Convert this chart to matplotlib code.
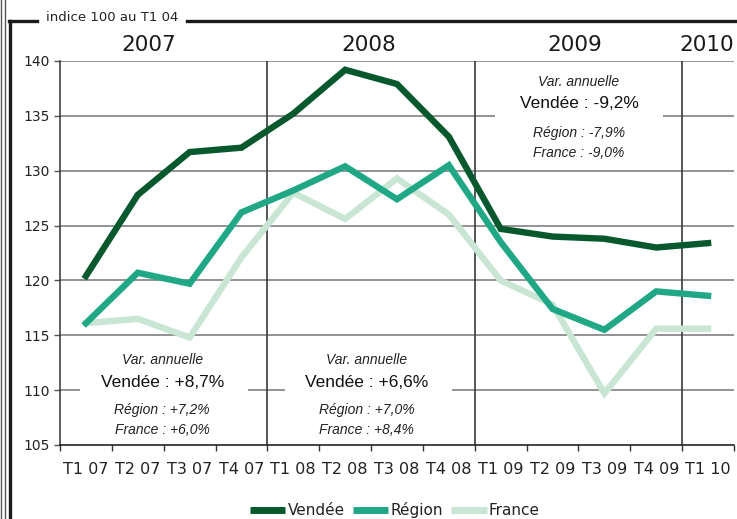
import matplotlib
matplotlib.use("Agg")
import matplotlib.pyplot as plt
from matplotlib.lines import Line2D
from matplotlib.patches import Rectangle

# ---------------- data ----------------
categories = ["T1 07", "T2 07", "T3 07", "T4 07", "T1 08", "T2 08", "T3 08",
              "T4 08", "T1 09", "T2 09", "T3 09", "T4 09", "T1 10"]
vendee = [120.4, 127.8, 131.7, 132.1, 135.2, 139.2, 137.9, 133.1,
          124.7, 124.0, 123.8, 123.0, 123.4]
region = [116.1, 120.7, 119.7, 126.2, 128.2, 130.4, 127.4, 130.5,
          123.5, 117.4, 115.5, 119.0, 118.6]
france = [116.1, 116.5, 114.8, 122.1, 128.0, 125.6, 129.3, 126.0,
          120.0, 117.8, 109.7, 115.6, 115.6]
series_names = ["Vendée", "Région", "France"]
years = ["2007", "2008", "2009", "2010"]
y_ticks = [105, 110, 115, 120, 125, 130, 135, 140]
annotations = [
    ("Var. annuelle", "Vendée : +8,7%", "Région : +7,2%", "France : +6,0%"),
    ("Var. annuelle", "Vendée : +6,6%", "Région : +7,0%", "France : +8,4%"),
    ("Var. annuelle", "Vendée : -9,2%", "Région : -7,9%", "France : -9,0%"),
]
subtitle = "indice 100 au T1 04"

colors = ["#07592d", "#20a886", "#c8e6d3"]

# ---------------- figure ----------------
W, H = 737, 519
fig = plt.figure(figsize=(W / 100, H / 100), dpi=100)
ax = fig.add_axes([60 / W, 1 - 445 / H, 674 / W, 384 / H])

x = list(range(len(categories)))
zorders = [4, 3.5, 3]
for vals, name, c, z in zip([vendee, region, france], series_names, colors, zorders):
    ax.plot(x, vals, color=c, lw=4.6, solid_joinstyle="miter", zorder=z,
            label=name)

ax.set_xlim(-0.5, len(categories) - 0.5)
ax.set_ylim(105, 140)

# gridlines
for yv in y_ticks[1:]:
    ax.axhline(yv, color="#8a8a8a", lw=1.3, zorder=1)
for xv in [3.5, 7.5, 11.5]:
    ax.axvline(xv, color="#3a3a3a", lw=1.2, zorder=1)

for s in ["top", "right"]:
    ax.spines[s].set_visible(False)
ax.spines["left"].set_color("#333333")
ax.spines["left"].set_linewidth(1.1)
ax.spines["bottom"].set_color("#111111")
ax.spines["bottom"].set_linewidth(1.1)

ax.set_yticks(y_ticks)
ax.set_yticklabels([str(v) for v in y_ticks], fontsize=10,
                   family="DejaVu Sans", color="#222222")
ax.tick_params(axis="y", length=4, width=1, color="#555555", pad=3.5)

ax.set_xticks(x)
ax.set_xticklabels(categories, fontsize=11.5, family="DejaVu Sans",
                   color="#222222")
ax.set_xticks([i - 0.5 for i in range(len(categories) + 1)], minor=True)
ax.tick_params(axis="x", which="major", length=0, pad=12)
ax.tick_params(axis="x", which="minor", length=4.5, width=1, color="#333333")

# year labels
year_pos = [1.22, 5.46, 9.42, 11.97]
for yr, xp in zip(years, year_pos):
    ax.text(xp, 1.042, yr, transform=ax.get_xaxis_transform(), ha="center",
            va="center", fontsize=15.5, color="#1a1a1a", family="DejaVu Sans")

# annotation boxes
boxes = [(-0.12, 105.5, 3.25, 8.6), (3.84, 105.5, 3.22, 8.6),
         (7.89, 130.5, 3.24, 8.9)]
text_cx = [1.47, 5.42, 9.51]
text_ys = [(112.75, 110.7, 108.15, 106.4), (112.75, 110.7, 108.15, 106.4),
           (138.1, 136.1, 133.4, 131.6)]
for (bx, by, bw, bh), cx, ys, ann in zip(boxes, text_cx, text_ys, annotations):
    ax.add_patch(Rectangle((bx, by), bw, bh, facecolor="white",
                           edgecolor="none", zorder=2))
    ax.text(cx, ys[0], ann[0], ha="center", va="center", fontsize=10,
            style="italic", family="Liberation Sans", color="#222222", zorder=5)
    ax.text(cx, ys[1], ann[1], ha="center", va="center", fontsize=12.5,
            family="Liberation Sans", color="#111111", zorder=5)
    ax.text(cx, ys[2], ann[2], ha="center", va="center", fontsize=10,
            style="italic", family="Liberation Sans", color="#222222", zorder=5)
    ax.text(cx, ys[3], ann[3], ha="center", va="center", fontsize=10,
            style="italic", family="Liberation Sans", color="#222222", zorder=5)

# legend
leg = fig.legend(handles=ax.lines[:3], labels=series_names, loc="center",
                 bbox_to_anchor=(395 / W, 1 - 510 / H), ncol=3, frameon=False,
                 handlelength=2.3, handletextpad=0.15, columnspacing=0.55,
                 prop={"family": "DejaVu Sans", "size": 11})
for t in leg.get_texts():
    t.set_color("#222222")
for h in leg.legend_handles:
    h.set_linewidth(5)
    h.set_solid_capstyle("butt")

# outer frame
def fx(px):
    return px / W

def fy(py):
    return 1 - py / H

fig.add_artist(Line2D([fx(1.5), fx(1.5)], [0, 1], color="#555555", lw=1.0))
fig.add_artist(Line2D([fx(4.5), fx(4.5)], [0, 1], color="#555555", lw=1.0))
fig.add_artist(Line2D([fx(9.5), fx(9.5)], [fy(21), 0], color="#1a1a1a", lw=2.4))
fig.add_artist(Line2D([fx(8.5), fx(37)], [fy(21), fy(21)], color="#1a1a1a", lw=2.4))
fig.add_artist(Line2D([fx(187), 1], [fy(21), fy(21)], color="#1a1a1a", lw=2.4))
fig.text(fx(112), fy(17.5), subtitle, ha="center", va="center", fontsize=9.5,
         family="DejaVu Sans", color="#222222")

fig.savefig("out.png", dpi=100)
